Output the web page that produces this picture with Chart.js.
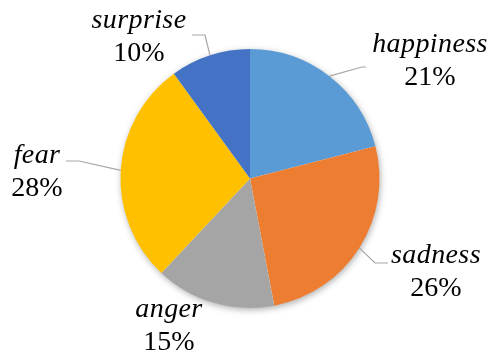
<!DOCTYPE html>
<html>
<head>
<meta charset="utf-8">
<script src="https://cdn.jsdelivr.net/npm/chart.js@4"></script>
<style>
  html, body { margin: 0; padding: 0; background: #fff; }
  #wrap { width: 490px; height: 353px; }
</style>
</head>
<body>
<div id="wrap"><canvas id="myChart" width="490" height="353"></canvas></div>
<script>
'use strict';
const emotions = ['happiness', 'sadness', 'anger', 'fear', 'surprise'];
const shares = [21, 26, 15, 28, 10];
const sliceColors = ['#5B9BD5', '#ED7D31', '#A5A5A5', '#FFC000', '#4472C4'];

// where each label sits: text centre x, baseline of the name, and the leader line bend/end (null = no line)
const labelSpots = [
  { x: 430, y: 52, bend: [362, 67], end: [366, 67] },
  { x: 436, y: 263, bend: [375, 263], end: [388, 263] },
  { x: 169, y: 317, bend: null, end: null },
  { x: 37, y: 163, bend: [79, 161], end: [66, 161] },
  { x: 139, y: 28, bend: [205, 35], end: [192, 35] },
];

const pieShadow = {
  id: 'pieShadow',
  beforeDatasetsDraw(chart) {
    const arc = chart.getDatasetMeta(0).data[0];
    if (!arc) return;
    const ctx = chart.ctx;
    ctx.save();
    ctx.shadowColor = 'rgba(0,0,0,0.35)';
    ctx.shadowBlur = 7;
    ctx.shadowOffsetX = 1;
    ctx.shadowOffsetY = 2;
    ctx.fillStyle = '#fff';
    ctx.beginPath();
    ctx.arc(arc.x, arc.y, arc.outerRadius - 0.5, 0, Math.PI * 2);
    ctx.fill();
    ctx.restore();
  },
};

const pieLabels = {
  id: 'pieLabels',
  afterDatasetsDraw(chart) {
    const ctx = chart.ctx;
    const arcs = chart.getDatasetMeta(0).data;
    ctx.save();
    arcs.forEach((arc, i) => {
      const spot = labelSpots[i];
      if (spot.bend) {
        const mid = (arc.startAngle + arc.endAngle) / 2;
        const ex = arc.x + Math.cos(mid) * arc.outerRadius;
        const ey = arc.y + Math.sin(mid) * arc.outerRadius;
        ctx.strokeStyle = '#A6A6A6';
        ctx.lineWidth = 1.2;
        ctx.beginPath();
        ctx.moveTo(ex, ey);
        ctx.lineTo(spot.bend[0], spot.bend[1]);
        ctx.lineTo(spot.end[0], spot.end[1]);
        ctx.stroke();
      }
      ctx.fillStyle = '#000';
      ctx.textAlign = 'center';
      ctx.textBaseline = 'alphabetic';
      ctx.font = "italic 28px 'Liberation Serif'";
      ctx.letterSpacing = '0.4px';
      ctx.fillText(emotions[i], spot.x, spot.y);
      ctx.letterSpacing = '0px';
      ctx.font = "28px 'Liberation Serif'";
      ctx.fillText(shares[i] + '%', spot.x, spot.y + 33);
    });
    ctx.restore();
  },
};

const ctx = document.getElementById('myChart').getContext('2d');
new Chart(ctx, {
  type: 'pie',
  data: {
    labels: emotions,
    datasets: [
      {
        data: shares,
        backgroundColor: sliceColors,
        borderWidth: 0,
      },
    ],
  },
  options: {
    responsive: false,
    animation: false,
    layout: {
      padding: { top: 49, bottom: 45, left: 120, right: 110 },
    },
    plugins: {
      legend: { display: false },
      tooltip: { enabled: false },
    },
  },
  plugins: [pieShadow, pieLabels],
});
</script>
</body>
</html>
